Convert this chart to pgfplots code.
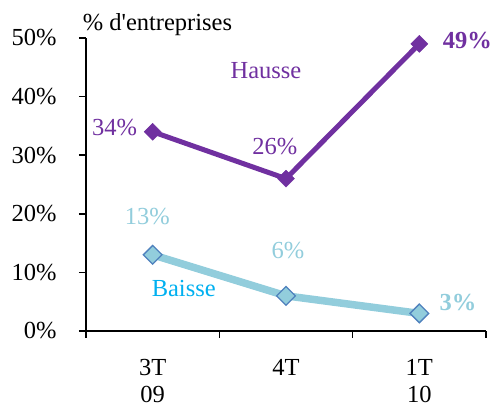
\documentclass[border=0pt]{standalone}
\usepackage{fontspec}
\setmainfont{Liberation Serif}
\usepackage{pgfplots}
\pgfplotsset{compat=1.18}
\definecolor{hausse}{HTML}{7030A0}
\definecolor{baisseline}{HTML}{92CDDC}
\definecolor{baisseedge}{HTML}{4F81BD}
\definecolor{baissetxt}{HTML}{00B0F0}
\begin{document}
\fontsize{24.5}{27}\selectfont
\begin{tikzpicture}[x=1pt,y=1pt]
\useasboundingbox (0,0) rectangle (493,412);
\begin{axis}[
  at={(86pt,81pt)}, anchor=south west,
  scale only axis, width=400pt, height=293pt,
  xmin=-0.5, xmax=2.5, ymin=0, ymax=50,
  axis x line=bottom, axis y line=left,
  axis line style={line width=1.6pt, black, -},
  xtick={-0.5,0.5,1.5,2.5}, xticklabels={},
  extra x ticks={0,1,2},
  extra x tick labels={{3T\\09},{4T},{1T\\10}},
  extra x tick style={major tick length=0pt, tick label style={align=center, yshift=-20pt}},
  x tick label style={font=\fontsize{24.5}{27}\selectfont},
  ytick={0,10,20,30,40,50},
  yticklabel={\pgfmathprintnumber{\tick}\%},
  y tick label style={font=\fontsize{24.5}{27}\selectfont, xshift=-14pt},
  /pgf/number format/assume math mode=true,
  tick style={line width=1.6pt, black},
  major tick length=7pt,
  tick align=outside,
  clip=false,
]
\addplot[color=baisseline, line width=7.5pt, mark=square*, mark size=6.6pt,
  mark options={rotate=45, fill=baisseline, draw=baisseedge, line width=1.3pt}]
  coordinates {(0,13) (1,6) (2,3)};
\addplot[color=hausse, line width=5pt, mark=square*, mark size=6pt,
  mark options={rotate=45, fill=hausse, draw=hausse, line width=0.5pt}]
  coordinates {(0,34) (1,26) (2,49)};
\node[text=hausse] at (axis cs:-0.286,34.8) {34\%};
\node[text=hausse] at (axis cs:0.917,31.4) {26\%};
\node[text=hausse, font=\bfseries] at (axis cs:2.36,49.5) {49\%};
\node[text=hausse] at (axis cs:0.85,44.5) {Hausse};
\node[text=baisseline] at (axis cs:-0.04,19.5) {13\%};
\node[text=baisseline] at (axis cs:1.015,13.8) {6\%};
\node[text=baisseline, font=\bfseries] at (axis cs:2.29,4.8) {3\%};
\node[text=baissetxt] at (axis cs:0.233,7.2) {Baisse};
\node[anchor=west, xshift=-3pt] at (axis cs:-0.564,52.2) {\% d\textquotesingle entreprises};
\end{axis}
\end{tikzpicture}
\end{document}
